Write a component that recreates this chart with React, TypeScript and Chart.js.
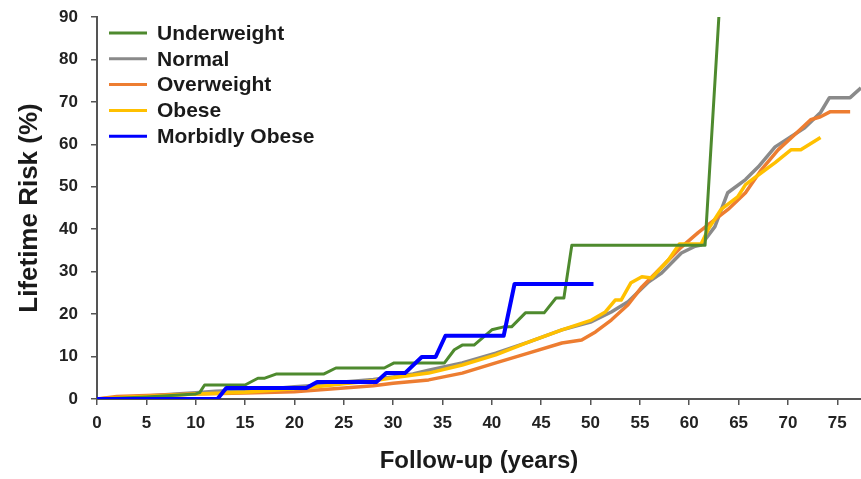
import React, { useEffect, useRef } from 'react';
import { Chart, registerables } from 'chart.js';

Chart.register(...registerables);

const FONT = "'Liberation Sans', Arial, Helvetica, sans-serif";

const seriesNames = ['Underweight', 'Normal', 'Overweight', 'Obese', 'Morbidly Obese'];
const seriesColors = ['#4E8A2E', '#8A8A8A', '#ED7D31', '#FFC000', '#0000FF'];
const seriesWidths = [3, 3.5, 3.5, 3.5, 4];
const seriesOrder = [1, 4, 3, 2, 0];

const xTickValues = [0, 5, 10, 15, 20, 25, 30, 35, 40, 45, 50, 55, 60, 65, 70, 75];
const yTickValues = [0, 10, 20, 30, 40, 50, 60, 70, 80, 90];

const underweightYears = [0, 5, 10, 10.4, 10.9, 15, 16.3, 17, 18.2, 23, 24.2, 29.1, 30.1, 35.2, 36.2, 37, 38.2, 40, 41.2, 42, 43.4, 45.3, 46.5, 47.3, 48.1, 61.6, 63];
const underweightRisk = [0, 0.5, 1.2, 1.5, 3.3, 3.3, 4.9, 4.9, 5.9, 5.9, 7.3, 7.3, 8.5, 8.5, 11.6, 12.7, 12.7, 16.3, 17, 17, 20.3, 20.3, 23.8, 23.8, 36.2, 36.2, 90];

const normalYears = [0, 2, 5, 8, 10, 12, 15, 18, 20, 22, 25, 28, 30, 32, 33.6, 37, 40.4, 43.7, 47.1, 50.1, 52.1, 53.8, 55.9, 57.2, 59.2, 60.6, 61.2, 62.6, 63.9, 65.7, 67, 68.7, 70.3, 71.7, 73.3, 74.2, 76.3, 77.4];
const normalRisk = [0, 0.3, 0.7, 1.2, 1.5, 1.8, 2.1, 2.5, 2.9, 3.2, 4, 4.6, 5.2, 5.9, 6.8, 8.5, 10.8, 13.4, 16.3, 18.2, 20.5, 22.9, 27.6, 29.7, 34.4, 36, 36.3, 40.6, 48.6, 51.7, 54.7, 59.4, 61.8, 63.9, 67.5, 71, 71, 73.3];

const overweightYears = [0, 2, 5, 10, 15, 20, 25, 28, 30, 33.6, 37, 40.4, 43.7, 47.1, 49.1, 50.5, 52.1, 53.8, 55.2, 57.2, 59.2, 60.9, 61.9, 63.9, 65.7, 67.3, 69, 70.7, 72.3, 73.3, 74.3, 76.3];
const overweightRisk = [0, 0.6, 0.8, 1.2, 1.4, 1.7, 2.6, 3.1, 3.7, 4.5, 6.1, 8.5, 10.8, 13.2, 13.9, 15.8, 18.6, 22.2, 26.4, 31.1, 35.8, 39.2, 41, 44.6, 48.6, 54, 58.7, 62.3, 65.8, 66.5, 67.7, 67.7];

const obeseYears = [0, 3, 5, 10, 15, 20, 22, 25, 28, 30, 33.6, 37, 40.4, 43.7, 47.1, 50.1, 51.5, 52.5, 53.1, 54.1, 55.2, 56.2, 57.9, 59, 61.2, 61.9, 63.2, 64.9, 65.7, 67.3, 68.7, 70.3, 71.3, 73.3];
const obeseRisk = [0, 0.4, 0.6, 1.2, 1.6, 2.4, 2.8, 3.6, 4.3, 5, 6.1, 8, 10.4, 13.4, 16.3, 18.6, 20.5, 23.3, 23.3, 27.4, 28.8, 28.5, 32.8, 36.5, 36.5, 39.9, 44.6, 47.6, 50.5, 53.3, 55.7, 58.7, 58.7, 61.6];

const morbidYears = [0, 12.2, 13.1, 21.2, 22.3, 28.3, 29.3, 31.2, 32.9, 34.3, 35.3, 41.2, 42.3, 50.3];
const morbidRisk = [0, 0, 2.6, 2.6, 4, 4, 6.1, 6.1, 9.9, 9.9, 14.9, 14.9, 27.1, 27.1];

const allYears = [underweightYears, normalYears, overweightYears, obeseYears, morbidYears];
const allRisk = [underweightRisk, normalRisk, overweightRisk, obeseRisk, morbidRisk];

const legendPlugin = {
  id: 'insideLegend',
  afterDraw(chart: any) {
    const { ctx, chartArea } = chart;
    ctx.save();
    ctx.font = `bold 21px ${FONT}`;
    ctx.textBaseline = 'middle';
    ctx.textAlign = 'left';
    seriesNames.forEach((name, i) => {
      const y = chartArea.top + 16 + i * 25.8;
      ctx.strokeStyle = seriesColors[i];
      ctx.lineWidth = 3;
      ctx.beginPath();
      ctx.moveTo(chartArea.left + 12, y);
      ctx.lineTo(chartArea.left + 50, y);
      ctx.stroke();
      ctx.fillStyle = '#1a1a1a';
      ctx.fillText(name, chartArea.left + 60, y + 1);
    });
    ctx.restore();
  },
};

export default function App() {
  const canvasRef = useRef<HTMLCanvasElement | null>(null);

  useEffect(() => {
    const canvas = canvasRef.current;
    if (!canvas) return;
    const datasets = seriesNames.map((name, i) => ({
      label: name,
      data: allYears[i].map((x, j) => ({ x, y: allRisk[i][j] })),
      borderColor: seriesColors[i],
      backgroundColor: seriesColors[i],
      borderWidth: seriesWidths[i],
      pointRadius: 0,
      tension: 0,
      fill: false,
      order: seriesOrder[i],
      borderJoinStyle: 'round' as const,
    }));

    const chart = new Chart(canvas, {
      type: 'line',
      data: { datasets },
      options: {
        animation: false,
        responsive: false,
        devicePixelRatio: 1,
        layout: { padding: { left: 10, top: 17, right: 0, bottom: 0 } },
        plugins: {
          legend: { display: false },
          tooltip: { enabled: false },
        },
        scales: {
          x: {
            type: 'linear',
            min: 0,
            max: 77.4,
            afterFit: (s: any) => { s.height = 80; s.paddingRight = 0; },
            afterBuildTicks: (s: any) => { s.ticks = xTickValues.map((v) => ({ value: v })); },
            ticks: {
              stepSize: 5,
              includeBounds: false,
              autoSkip: false,
              maxRotation: 0,
              padding: 8,
              color: '#222222',
              font: { family: FONT, size: 17, weight: 'bold' },
            },
            grid: { display: true, drawOnChartArea: false, drawTicks: true, tickLength: 6, color: '#555555', lineWidth: 1.5 },
            border: { display: true, color: '#555555', width: 2 },
            title: {
              display: true,
              text: 'Follow-up (years)',
              color: '#1a1a1a',
              font: { family: FONT, size: 24, weight: 'bold' },
              padding: { top: 4, bottom: 3 },
            },
          },
          y: {
            type: 'linear',
            min: 0,
            max: 90,
            afterFit: (s: any) => { s.width = 87; s.paddingTop = 4; s.paddingBottom = 0; },
            afterBuildTicks: (s: any) => { s.ticks = yTickValues.map((v) => ({ value: v })); },
            ticks: {
              stepSize: 10,
              padding: 13,
              color: '#222222',
              font: { family: FONT, size: 17, weight: 'bold' },
            },
            grid: { display: true, drawOnChartArea: false, drawTicks: true, tickLength: 6, color: '#555555', lineWidth: 1.5 },
            border: { display: true, color: '#555555', width: 2 },
            title: {
              display: true,
              text: 'Lifetime Risk (%)',
              color: '#1a1a1a',
              font: { family: FONT, size: 26, weight: 'bold' },
              padding: { top: 4, bottom: 4 },
            },
          },
        },
      },
      plugins: [legendPlugin],
    } as any);

    return () => chart.destroy();
  }, []);

  return (
    <div style={{ position: 'fixed', left: 0, top: 0, width: 861, height: 479, background: '#ffffff' }}>
      <canvas ref={canvasRef} width={861} height={479} style={{ width: 861, height: 479, display: 'block' }} />
    </div>
  );
}
